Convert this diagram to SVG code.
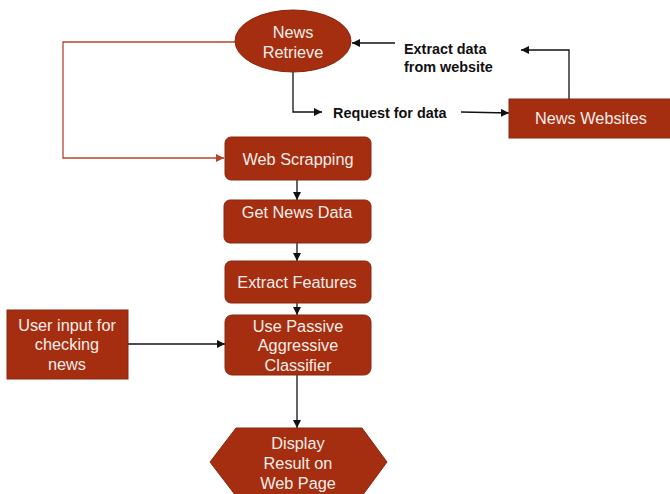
<svg xmlns="http://www.w3.org/2000/svg" width="670" height="494" viewBox="0 0 670 494">
<defs>
<style>
.n{fill:#A52E10;stroke:#8A2710;stroke-width:1}
.t{font-family:"Liberation Sans",Arial,sans-serif;font-size:16.3px;fill:#F5EDE8;text-anchor:middle}
.l{font-family:"Liberation Sans",Arial,sans-serif;font-size:14.4px;font-weight:bold;fill:#111}
.c{fill:none;stroke:#111;stroke-width:1.3}
.r{fill:none;stroke:#B5452E;stroke-width:1.3}
</style>
<marker id="a" viewBox="0 0 10 10" refX="10" refY="5" markerWidth="8" markerHeight="8" markerUnits="userSpaceOnUse" orient="auto"><path d="M0,0L10,5L0,10z" fill="#111"/></marker>
<marker id="ar" viewBox="0 0 10 10" refX="10" refY="5" markerWidth="8" markerHeight="8" markerUnits="userSpaceOnUse" orient="auto"><path d="M0,0L10,5L0,10z" fill="#B5452E"/></marker>
</defs>
<rect width="670" height="494" fill="#fff"/>
<g id="connectors">
<path class="r" d="M235,42H63V158H224" marker-end="url(#ar)"/>
<path class="c" d="M293,72V112H322" marker-end="url(#a)"/>
<path class="c" d="M461,112L509,113" marker-end="url(#a)"/>
<path class="c" d="M569,99V50H521" marker-end="url(#a)"/>
<path class="c" d="M395,43H352" marker-end="url(#a)"/>
<path class="c" d="M297,180V200" marker-end="url(#a)"/>
<path class="c" d="M297,243V261" marker-end="url(#a)"/>
<path class="c" d="M297,303V315" marker-end="url(#a)"/>
<path class="c" d="M128,344H225" marker-end="url(#a)"/>
<path class="c" d="M297,375V428" marker-end="url(#a)"/>
<text class="l" x="333" y="118">Request for data</text>
<text class="l" x="404" y="54">Extract data</text>
<text class="l" x="404" y="72">from website</text>
</g>
<g id="news-retrieve">
<ellipse class="n" cx="293" cy="41" rx="58" ry="31"/>
<text class="t" x="293" y="38">News</text>
<text class="t" x="293" y="58">Retrieve</text>
</g>
<g id="news-websites">
<rect class="n" x="509" y="99" width="162" height="39"/>
<text class="t" x="591" y="124">News Websites</text>
</g>
<g id="web-scrapping">
<rect class="n" x="225" y="137" width="146" height="43" rx="6"/>
<text class="t" x="298" y="165">Web Scrapping</text>
</g>
<g id="get-news-data">
<rect class="n" x="224" y="200" width="147" height="43" rx="6"/>
<text class="t" x="297" y="218">Get News Data</text>
</g>
<g id="extract-features">
<rect class="n" x="225" y="261" width="146" height="42" rx="6"/>
<text class="t" x="297" y="288">Extract Features</text>
</g>
<g id="classifier">
<rect class="n" x="225" y="315" width="146" height="60" rx="7"/>
<text class="t" x="298" y="332">Use Passive</text>
<text class="t" x="298" y="351">Aggressive</text>
<text class="t" x="298" y="371">Classifier</text>
</g>
<g id="user-input">
<rect class="n" x="7" y="310" width="121" height="69"/>
<text class="t" x="67" y="331">User input for</text>
<text class="t" x="67" y="350">checking</text>
<text class="t" x="67" y="370">news</text>
</g>
<g id="display-result">
<polygon class="n" points="236,428 362,428 387,462 362,496 236,496 210,462"/>
<text class="t" x="298" y="449">Display</text>
<text class="t" x="298" y="469">Result on</text>
<text class="t" x="298" y="489">Web Page</text>
</g>
</svg>
